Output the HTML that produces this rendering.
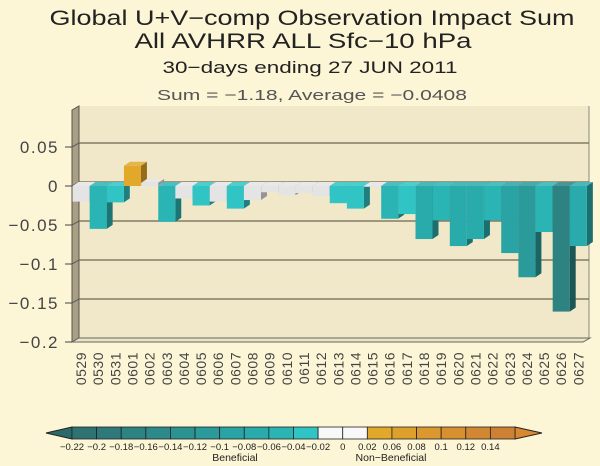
<!DOCTYPE html>
<html><head><meta charset="utf-8"><style>
body{margin:0;background:#fdf6d6;}
svg{display:block;font-family:"Liberation Sans",sans-serif;}
</style></head><body>
<svg width="600" height="466" viewBox="0 0 600 466" id="chart">
<rect x="0" y="0" width="600" height="466" fill="#fdf6d6"/>
<g fill="#222" text-anchor="middle">
<text x="312" y="25" font-size="21" textLength="525" lengthAdjust="spacingAndGlyphs">Global U+V−comp Observation Impact Sum</text>
<text x="303" y="48" font-size="21" textLength="337" lengthAdjust="spacingAndGlyphs">All AVHRR ALL Sfc−10 hPa</text>
<text x="310" y="73" font-size="17" textLength="295" lengthAdjust="spacingAndGlyphs">30−days ending 27 JUN 2011</text>
<text x="312" y="100" font-size="15" fill="#555" textLength="310" lengthAdjust="spacingAndGlyphs">Sum = −1.18, Average = −0.0408</text>
</g>
<g id="plot"></g>
<g id="cbar"></g>
</svg>
<script>
const categories=["0529","0530","0531","0601","0602","0603","0604","0605","0606","0607","0608","0609","0610","0611","0612","0613","0614","0615","0616","0617","0618","0619","0620","0621","0622","0623","0624","0625","0626","0627"];
const values=[-0.020,-0.055,-0.021,0.026,0.004,-0.046,-0.016,-0.025,-0.020,-0.029,-0.018,-0.008,-0.012,-0.009,-0.013,-0.022,-0.029,-0.001,-0.042,-0.036,-0.068,-0.044,-0.077,-0.068,-0.044,-0.086,-0.117,-0.059,-0.161,-0.077];
const yTicks=[0.05,0,-0.05,-0.1,-0.15,-0.2];
const yTickLabels=["0.05","0","−0.05","−0.1","−0.15","−0.2"];
const cbLevels=[-0.22,-0.2,-0.18,-0.16,-0.14,-0.12,-0.1,-0.08,-0.06,-0.04,-0.02,0,0.02,0.04,0.06,0.08,0.1,0.12,0.14];
const cbLabels=["−0.22","−0.2","−0.18","−0.16","−0.14","−0.12","−0.1","−0.08","−0.06","−0.04","−0.02","0","0.02","0.06","0.08","0.1","0.12","0.14"];
const cbColors=["#2f7272","#2e7a7a","#2d8282","#2c8a8a","#2b9292","#2a9a9a","#29a3a3","#2aabab","#2bb4b4","#30c4c4","#f8f8f8","#f8f8f8","#e2a82a","#dea02c","#da982e","#d69030","#d28832","#ce8034"];
const NS="http://www.w3.org/2000/svg";
function el(tag,attrs,parent){const e=document.createElementNS(NS,tag);for(const k in attrs)e.setAttribute(k,attrs[k]);parent.appendChild(e);return e;}
const yScale=v=>186-780*v;
const xCenter=i=>81+17.15*i;
const BW=17,DX=6,DY=4;
const plot=document.getElementById('plot');
const w=el('polygon',{points:"79,106 589,106 589,338 79,338",fill:"#f0e8c8"},plot);


const lw=el('polygon',{points:"72,110 79,106 79,338 72,342",fill:"#aa9f82",stroke:"#555",'stroke-width':"1"},plot);


const fl=el('polygon',{points:"72,342 583,342 590,338 79,338",fill:"#ece4c4",stroke:"#666",'stroke-width':"1"},plot);


el('line',{x1:589,y1:106,x2:589,y2:338,stroke:"#888","stroke-width":1},plot);
yTicks.forEach((t,k)=>{
  const y=yScale(t);
  if(t>-0.2){const g=el('line',{x1:79,y1:y-DY,x2:589,y2:y-DY,stroke:"#6e6450","stroke-width":1.3},plot);
  
  
  el('line',{x1:72,y1:y,x2:79,y2:y-DY,stroke:"#555","stroke-width":1},plot);}
  const tk=el('line',{x1:65,y1:y,x2:72,y2:y,stroke:"#444","stroke-width":1},plot);
  
  
  const tx=el('text',{x:59,y:y+6,'font-size':17,'letter-spacing':1.5,'text-anchor':'end',fill:'#444'},plot);
  tx.textContent=yTickLabels[k];
  
  
});
function colorFor(v){
  if(v<-0.22)return "#2a6a6a";
  for(let i=0;i<cbLevels.length-1;i++){if(v>=cbLevels[i]&&v<cbLevels[i+1])return cbColors[i];}
  return "#cc7a30";
}
function shade(hex,f){const n=parseInt(hex.slice(1),16);let r=n>>16,g=(n>>8)&255,b=n&255;
  const m=c=>Math.max(0,Math.min(255,Math.round(f<1?c*f:c+(255-c)*(f-1))));return `rgb(${m(r)},${m(g)},${m(b)})`;}
values.forEach((v,i)=>{
  const g=el('g',{},plot);
  
  
  let c=colorFor(v); if(c==="#f8f8f8")c="#e4e4e4";
  const x=xCenter(i)-BW/2, y0=yScale(0), y1=yScale(v);
  const top=Math.min(y0,y1), bot=Math.max(y0,y1);
  el('polygon',{points:`${x+BW},${top} ${x+BW+DX},${top-DY} ${x+BW+DX},${bot-DY} ${x+BW},${bot}`,fill:shade(c,0.65)},g);
  el('polygon',{points:`${x},${top} ${x+DX},${top-DY} ${x+BW+DX},${top-DY} ${x+BW},${top}`,fill:shade(c,1.15)},g);
  el('rect',{x:x,y:top,width:BW,height:Math.max(bot-top,0.5),fill:c},g);
  const t=el('text',{transform:`translate(${xCenter(i)+5},352) rotate(-90)`,'font-size':14,'letter-spacing':0.5,'text-anchor':'end',fill:'#444'},plot);
  t.textContent=categories[i];
  
  
});
const cb=document.getElementById('cbar');
const cx=v=>72+(v+0.22)/0.36*443;
const cy0=427,cy1=439;
const lt=el('polygon',{points:`46,433 72,${cy0} 72,${cy1}`,fill:"#2a6a6a",stroke:"#222","stroke-width":1},cb);


const rt=el('polygon',{points:`542,433 515,${cy0} 515,${cy1}`,fill:"#d88830",stroke:"#222","stroke-width":1},cb);


cbColors.forEach((c,i)=>{
  const r=el('rect',{x:cx(cbLevels[i]),y:cy0,width:cx(cbLevels[i+1])-cx(cbLevels[i]),height:cy1-cy0,fill:c,stroke:"#222","stroke-width":0.8},cb);
  
  
});
cbLabels.forEach((l,i)=>{
  const t=el('text',{x:cx(cbLevels[i]),y:450,'font-size':9.5,'text-anchor':'middle',fill:'#222'},cb);
  t.textContent=l;
  
  
});
const b1=el('text',{x:235,y:461,'font-size':10.5,'text-anchor':'middle',fill:'#222'},cb);
b1.textContent="Beneficial";


const b2=el('text',{x:391,y:461,'font-size':10.5,'text-anchor':'middle',fill:'#222'},cb);
b2.textContent="Non−Beneficial";


</script>
</body></html>
